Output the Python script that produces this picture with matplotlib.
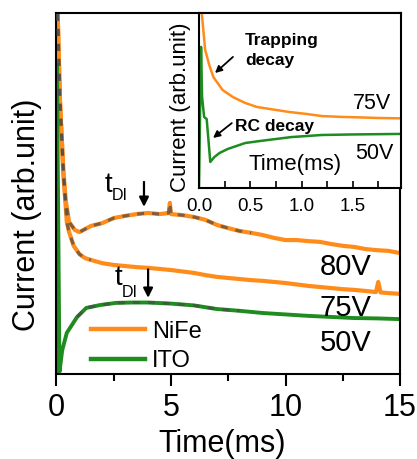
import matplotlib
matplotlib.use('Agg')
import matplotlib.pyplot as plt

plt.rcParams['font.family'] = ['Liberation Sans', 'DejaVu Sans']

# ---------------- data (main panel, arbitrary units 0-100) ----------------
t80 = [0.0, 0.05, 0.15, 0.3, 0.4, 0.55, 0.8, 1.0, 1.5, 2.0, 2.5, 3.0, 3.5, 4.0, 4.5,
       4.9, 4.95, 5.0, 5.5, 6.0, 6.5, 7.0, 7.5, 8.0, 8.5, 9.0, 9.5, 10.0, 10.5, 11.0,
       11.5, 12.0, 12.5, 13.0, 13.5, 14.0, 14.5, 15.0]
i80 = [105, 100, 75.9, 56.5, 48.2, 42.1, 39.9, 39.3, 41.0, 41.8, 43.2, 43.8, 44.3, 44.6, 44.3,
       44.6, 47.4, 44.3, 44.0, 43.5, 42.7, 41.3, 40.4, 39.6, 39.1, 38.5, 37.7, 37.1, 37.1, 36.8,
       36.6, 36.0, 35.5, 35.2, 34.6, 34.3, 34.1, 33.5]

t75 = [0.0, 0.05, 0.15, 0.3, 0.45, 0.55, 0.75, 1.0, 1.25, 1.5, 2.0, 2.5, 3.0, 3.5, 4.0, 4.5,
       5.0, 5.5, 6.0, 6.5, 7.0, 7.5, 8.0, 8.5, 9.0, 9.5, 10.0, 10.5, 11.0, 11.5, 12.0, 12.5,
       13.0, 13.5, 13.95, 14.05, 14.15, 14.5, 15.0]
i75 = [105, 100, 75.9, 55.1, 42.1, 39.3, 35.5, 33.2, 32.1, 31.6, 30.7, 30.2, 29.9, 29.6, 29.4, 29.1,
       28.8, 28.4, 28.0, 27.4, 26.9, 26.6, 26.3, 26.0, 25.8, 25.5, 25.2, 24.8, 24.4, 24.1, 23.8, 23.5,
       23.3, 23.0, 22.7, 25.5, 22.6, 22.4, 22.2]

t50 = [0.0, 0.02, 0.13, 0.25, 0.45, 0.9, 1.3, 1.9, 2.6, 3.3, 4.0, 5.0, 6.0, 7.0, 8.0, 9.0,
       10.0, 11.0, 12.0, 13.0, 14.0, 15.0]
i50 = [0, 85.6, 0.6, 6.6, 11.4, 15.8, 18.3, 19.1, 19.7, 19.8, 19.8, 19.5, 19.0, 18.0, 17.5, 16.9,
       16.5, 16.1, 15.8, 15.5, 15.4, 15.2]

# fit ranges (ms)
fit80_range = (0.0, 8.5)
fit75_range = (0.0, 1.5)
fit50_range = (0.9, 8.5)

# ---------------- data (inset, 0-2 ms) ----------------
tin75 = [0.02, 0.06, 0.1, 0.14, 0.23, 0.33, 0.45, 0.565, 0.75, 0.885, 1.05, 1.2, 1.4, 1.54, 1.75, 1.97]
iin75 = [104.6, 78.9, 70.3, 63.4, 56.0, 52.0, 48.6, 46.3, 44.6, 43.4, 42.3, 41.1, 40.6, 40.4, 40.0, 39.8]

tin50 = [0.0, 0.02, 0.03, 0.05, 0.075, 0.11, 0.15, 0.2, 0.28, 0.45, 0.6, 0.9, 1.2, 1.5, 1.97]
iin50 = [0, 80.6, 52.0, 40.6, 39.4, 14.9, 17.7, 20.0, 22.3, 25.7, 26.9, 29.1, 30.3, 30.6, 30.9]

main_xticks = [0, 5, 10, 15]
inset_xticks = [0.0, 0.5, 1.0, 1.5]
voltage_labels = ['80V', '75V', '50V']
series_names = ['NiFe', 'ITO']

ORANGE = '#FF8C1A'
GREEN = '#1E8C1E'
FITC = '#4a4a4a'


def sub(t, v, rng):
    pts = [(a, b) for a, b in zip(t, v) if rng[0] <= a <= rng[1]]
    return [p[0] for p in pts], [p[1] for p in pts]


fig = plt.figure(figsize=(4.17, 4.59), dpi=100)
ax = fig.add_axes([56.5 / 417, (459 - 374) / 459, (400 - 56.5) / 417, (374 - 13) / 459])

l80, = ax.plot(t80, i80, color=ORANGE, lw=3.0, zorder=2)
ax.plot(t75, i75, color=ORANGE, lw=3.0, zorder=2)
l50, = ax.plot(t50, i50, color=GREEN, lw=2.8, zorder=2)

for (t, v, r) in [(t80, i80, fit80_range), (t75, i75, fit75_range), (t50, i50, fit50_range)]:
    ft, fv = sub(t, v, r)
    ax.plot(ft, fv, color=FITC, lw=2.2, alpha=0.7, ls=(0, (2.3, 2.6)), zorder=3)

ax.set_xlim(0, 15)
ax.set_ylim(0, 100)
ax.set_xticks(main_xticks)
ax.set_xticks([2.5, 7.5, 12.5], minor=True)
ax.set_yticks([])
ax.tick_params(axis='x', which='major', direction='out', length=8.5, width=1.5, labelsize=22, pad=5)
ax.tick_params(axis='x', which='minor', direction='out', length=5, width=1.5)
for s in ax.spines.values():
    s.set_linewidth(1.5)

ax.text(-0.086, 0.44, 'Current (arb.unit)', transform=ax.transAxes, rotation=90,
        ha='center', va='center', fontsize=22)
fig.text(0.482 * (400 - 56.5) / 417 + 56.5 / 417, 7 / 459, 'Time(ms)', ha='center',
         va='baseline', fontsize=22)

# voltage labels
for lab, y in zip(voltage_labels, [29.6, 18.3, 8.6]):
    ax.text(11.5, y, lab, fontsize=21, ha='left', va='center')

# t_DI annotations
ax.text(2.12, 50.4, 't', fontsize=20, ha='left', va='baseline')
ax.text(2.42, 48.2, 'DI', fontsize=11.5, ha='left', va='baseline')
ax.annotate('', xy=(3.82, 46.3), xytext=(3.82, 53.2),
            arrowprops=dict(arrowstyle='-|>', color='k', lw=1.6, mutation_scale=14,
                            shrinkA=0, shrinkB=0))
ax.text(2.55, 24.7, 't', fontsize=20, ha='left', va='baseline')
ax.text(2.86, 21.3, 'DI', fontsize=11.5, ha='left', va='baseline')
ax.annotate('', xy=(4.0, 21.1), xytext=(4.0, 29.0),
            arrowprops=dict(arrowstyle='-|>', color='k', lw=1.6, mutation_scale=14,
                            shrinkA=0, shrinkB=0))

leg = ax.legend([l80, l50], series_names, loc='upper left', bbox_to_anchor=(0.1, 0.148),
                frameon=False, fontsize=17, handlelength=2.3, handletextpad=0.3,
                labelspacing=0.32, borderpad=0, borderaxespad=0)
for h in leg.get_lines():
    h.set_linewidth(3.2)

# ---------------- inset ----------------
axi = fig.add_axes([199 / 417, (459 - 188) / 459, 202 / 417, 175 / 459])
axi.set_facecolor('white')
axi.plot(tin75, iin75, color=ORANGE, lw=1.8)
axi.plot(tin50, iin50, color=GREEN, lw=1.8)
axi.set_xlim(0, 1.97)
axi.set_ylim(0, 100)
axi.set_xticks(inset_xticks)
axi.set_xticks([0.25, 0.75, 1.25, 1.75], minor=True)
axi.set_xticklabels(['%.1f' % v for v in inset_xticks])
axi.set_yticks([])
axi.tick_params(axis='x', which='both', direction='in', length=5, width=1.2, labelsize=13.5, pad=7)
for s in axi.spines.values():
    s.set_linewidth(1.5)

axi.text(-0.094, 0.463, 'Current (arb.unit)', transform=axi.transAxes, rotation=90,
         ha='center', va='center', fontsize=16)
axi.text(0.94, 13.5, 'Time(ms)', ha='center', va='center', fontsize=16)
axi.text(1.5, 48.3, '75V', ha='left', va='center', fontsize=15.5)
axi.text(1.52, 19.7, '50V', ha='left', va='center', fontsize=15.5)
axi.text(0.45, 88.6, 'Trapping\ndecay', ha='left', va='top', fontsize=12.5,
         fontweight='bold', linespacing=1.45)
axi.annotate('', xy=(0.156, 65.7), xytext=(0.331, 74.9),
             arrowprops=dict(arrowstyle='-|>', color='k', lw=1.3, mutation_scale=10,
                             shrinkA=0, shrinkB=0))
axi.text(0.35, 34.9, 'RC decay', ha='left', va='center', fontsize=12.5, fontweight='bold')
axi.annotate('', xy=(0.137, 28.6), xytext=(0.32, 37.1),
             arrowprops=dict(arrowstyle='-|>', color='k', lw=1.3, mutation_scale=10,
                             shrinkA=0, shrinkB=0))

fig.savefig('out.png', dpi=100)
